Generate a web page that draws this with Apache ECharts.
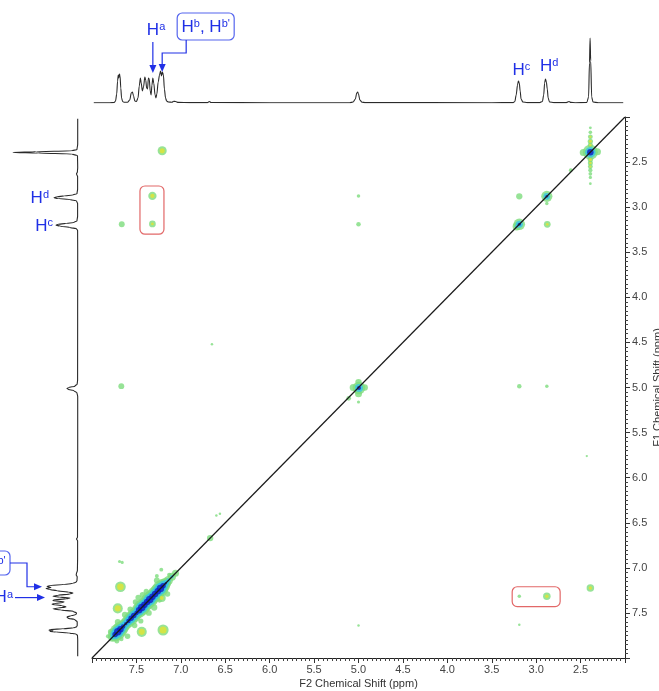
<!DOCTYPE html>
<html><head><meta charset="utf-8">
<script src="https://cdn.jsdelivr.net/npm/echarts@6/dist/echarts.min.js"></script>
<style>html,body{margin:0;padding:0;background:#fff}#c{width:659px;height:691px}</style>
</head><body><div id="c"></div>
<script>
// ---- data (ppm) ----
const ppmMin = 2.0, ppmMax = 8.0;
// 1D projection trace: [ppm, height]
const spectrum1D = [
 [7.98,0.3],[7.80,0.3],[7.75,0.5],[7.735,2],[7.722,9],[7.712,22],[7.705,28],[7.698,25],[7.692,29],[7.684,27],[7.676,15],[7.667,5],[7.655,1.5],[7.64,0.8],[7.60,0.8],[7.575,3],[7.558,10],[7.545,11],[7.532,7],[7.518,2],[7.50,1.5],[7.482,5],[7.468,17],[7.455,25],[7.446,20],[7.433,12],[7.42,16],[7.405,26],[7.395,23],[7.385,15],[7.375,14],[7.365,25],[7.355,24],[7.345,12],[7.335,8],[7.325,18],[7.315,25],[7.305,20],[7.29,8],[7.28,5],[7.27,9],[7.255,21],[7.24,28],[7.228,32],[7.218,27],[7.208,31],[7.196,28],[7.185,14],[7.172,5],[7.16,2],[7.14,1],[7.10,0.8],[7.08,1.8],[7.06,1.5],[7.03,0.6],[6.90,0.4],[6.70,0.4],[6.68,1.5],[6.66,0.5],[6.0,0.3],[5.10,0.3],[5.06,1],[5.035,4],[5.02,10],[5.01,11],[5.0,9],[4.985,3],[4.96,0.8],[4.92,0.4],[3.5,0.3],[3.26,0.4],[3.24,1.5],[3.225,8],[3.21,18],[3.20,22],[3.19,20],[3.18,12],[3.17,4],[3.15,1],[3.10,0.4],[2.96,0.4],[2.93,1.5],[2.915,8],[2.905,20],[2.895,24],[2.885,21],[2.875,14],[2.865,5],[2.85,1],[2.80,0.4],[2.66,0.4],[2.63,1.5],[2.61,0.6],[2.56,0.3],[2.43,0.5],[2.41,6],[2.40,40],[2.393,65],[2.386,42],[2.375,6],[2.36,1],[2.30,0.3],[2.02,0.3]
];
// diagonal peaks: [F2 ppm, F1 ppm, level]
const diagonalPeaks = [
 [2.39,2.39,6.5],[2.47,2.395,2.5],[2.31,2.385,2.5],
 [2.88,2.88,4.6],[3.19,3.19,4.8],[3.22,3.215,3],
 [4.995,5.005,5.3],[5.06,5.0,2.5],[4.93,5.0,2.2],[5.0,5.07,2.5],[5.0,4.94,2.2],
 [6.67,6.67,2.2],
 [7.77,7.77,3.5],[7.74,7.74,6],[7.71,7.71,7],[7.68,7.68,6.5],[7.65,7.65,5.5],[7.62,7.62,5],[7.59,7.59,5.5],[7.56,7.56,6],[7.53,7.53,6],[7.50,7.50,5.5],[7.47,7.47,6.5],[7.44,7.44,7],[7.41,7.41,6.5],[7.38,7.38,6.5],[7.35,7.35,7],[7.32,7.32,6.5],[7.29,7.29,6.5],[7.26,7.26,6.5],[7.23,7.23,7],[7.20,7.20,6],[7.17,7.17,4.5],[7.14,7.14,3.5],[7.10,7.10,3],[7.06,7.06,2.5]
];
// cross peaks: [F2 ppm, F1 ppm, level]
const crossPeaks = [
 [7.21,2.375,3.8],[7.32,2.875,3.4],[7.32,3.186,2.6],[7.665,3.19,2.2],
 [5.0,2.875,1.0],[5.0,3.19,1.5],[3.19,2.88,2.4],[2.875,3.19,2.6],[2.88,2.96,1.0],
 [7.67,4.985,2.2],[3.19,4.985,1.5],[2.88,4.985,1.0],
 [7.68,7.21,4.6],[7.71,7.45,4.3],[7.44,7.71,4.3],[7.20,7.69,4.8],[7.215,7.335,3.2],
 [2.88,7.315,3.0],[3.19,7.315,1.0],[2.39,7.225,3.0],
 [2.61,2.59,1.2],[5.11,5.12,1.6],[5.0,5.16,0.8],
 [7.63,7.52,2.2],[7.52,7.64,2.0],[7.43,7.30,2.2],[7.30,7.44,2.4],[7.51,7.38,2.0],[7.27,7.14,2.2],[7.15,7.29,2.0],[7.71,7.60,2.2],[7.60,7.76,2.0],[7.36,7.50,2.2],[7.48,7.33,2.0],[7.79,7.71,2.0],[7.72,7.81,1.8],[7.69,6.93,0.8],[7.66,6.94,0.8],[7.22,7.02,1.2],[7.13,7.08,1.5],[7.27,7.09,1.2],[7.57,7.46,2.0],[7.45,7.59,1.8],[7.39,7.26,1.8],[7.24,7.36,1.6],[7.67,7.79,1.5],[7.82,7.76,1.3]
];
// t1 noise streak of the 2.39 singlet
const t1Streak = [
 [2.39,2.12,0.8],[2.39,2.17,1.5],[2.39,2.22,2.6],[2.39,2.27,3],[2.39,2.31,2.8],[2.39,2.47,3],[2.39,2.51,2.8],[2.39,2.55,2.6],[2.39,2.59,2],[2.39,2.63,1.6],[2.39,2.67,1.2],[2.39,2.74,0.7]
];
const faintDots = [[6.6,6.42,0.5],[6.56,6.40,0.5],[6.65,4.52,0.5],[5.0,7.64,0.5],[3.19,7.63,0.5],[2.43,5.76,0.4]];
const diagonalLine = [[8.0,8.0],[2.0,2.0]];
// highlighted regions: [F2 from, F2 to, F1 from, F1 to]
const highlightBoxes = [[7.46,7.19,2.765,3.30],[3.27,2.73,7.21,7.43]];
// assignments (ppm)
const assignA = 7.315, assignB = 7.21, assignC = 3.20, assignD = 2.89;

const FONT = 'Liberation Sans, Arial, sans-serif';
const GREEN = '#7ddc7d', YELLOW = '#e4e432', CYAN = '#34c6e6', BLUE = '#0c18c4';
const BLUETXT = '#2030e6';

const chart = echarts.init(document.getElementById('c'), null, {renderer:'canvas'});
const tickCommon = {
  axisLine:{show:true, lineStyle:{color:'#222', width:1}},
  axisTick:{show:true, length:5, lineStyle:{color:'#333'}},
  minorTick:{show:true, splitNumber:10, length:3, lineStyle:{color:'#444'}},
  splitLine:{show:false}, minorSplitLine:{show:false},
  nameMoveOverlap:false
};
const fmt = v => (Math.abs(v-ppmMin)<1e-6 || Math.abs(v-ppmMax)<1e-6) ? '' : v.toFixed(1);
const sc = (xi, yi, data, size, color) => ({type:'scatter', xAxisIndex:xi, yAxisIndex:yi, silent:true, data:data, symbolSize:size, itemStyle:{color:color}});
const option = {
  animation:false,
  backgroundColor:'#fff',
  grid:[
    {left:92, top:117, width:533, height:541, outerBoundsMode:'none', containLabel:false},
    {left:92, top:30, width:533, height:73, outerBoundsMode:'none', containLabel:false},
    {left:8, top:117, width:70, height:541, outerBoundsMode:'none', containLabel:false}
  ],
  xAxis:[
    Object.assign({type:'value', gridIndex:0, min:ppmMin, max:ppmMax, inverse:true, interval:0.5, position:'bottom',
      name:'F2 Chemical Shift (ppm)', nameLocation:'middle', nameGap:20,
      nameTextStyle:{fontFamily:FONT, fontSize:11, color:'#333'},
      axisLabel:{formatter:fmt, fontFamily:FONT, fontSize:11, color:'#444', margin:6}}, tickCommon),
    {type:'value', gridIndex:1, min:ppmMin, max:ppmMax, inverse:true, show:false},
    {type:'value', gridIndex:2, min:0, max:70, inverse:true, show:false}
  ],
  yAxis:[
    Object.assign({type:'value', gridIndex:0, min:ppmMin, max:ppmMax, inverse:true, interval:0.5, position:'right',
      name:'F1 Chemical Shift (ppm)', nameLocation:'middle', nameGap:27, nameRotate:90,
      nameTextStyle:{fontFamily:FONT, fontSize:11, color:'#333'},
      axisLabel:{formatter:fmt, fontFamily:FONT, fontSize:11, color:'#444', margin:7}}, tickCommon),
    {type:'value', gridIndex:1, min:0, max:73, show:false},
    {type:'value', gridIndex:2, min:ppmMin, max:ppmMax, inverse:true, show:false}
  ],
  series:[
    sc(0,0, diagonalPeaks, v=>2+2*v[2], GREEN),
    sc(0,0, crossPeaks.concat(faintDots), v=>1.5+2*v[2], GREEN),
    sc(0,0, t1Streak, v=>2+1.1*v[2], GREEN),
    sc(0,0, crossPeaks, v=>v[2]>=2.5?(v[2]-2)*2+1.5:0, YELLOW),
    sc(0,0, t1Streak, v=>v[2]>=2.5?(v[2]-2)*2+1:0, YELLOW),
    sc(0,0, diagonalPeaks, v=>v[2]>=3?2*v[2]-2.5:0, CYAN),
    sc(0,0, diagonalPeaks, v=>v[2]>=4?2*v[2]-6.5:0, BLUE),
    {type:'line', xAxisIndex:0, yAxisIndex:0, silent:true, data:diagonalLine, showSymbol:false,
     lineStyle:{color:'#1a1a1a', width:1.2}, z:5},
    {type:'line', xAxisIndex:1, yAxisIndex:1, silent:true, data:spectrum1D, showSymbol:false,
     smooth:0.3, smoothMonotone:'x', lineStyle:{color:'#2a2a2a', width:1.1}},
    {type:'line', xAxisIndex:2, yAxisIndex:2, silent:true, data:spectrum1D.map(d=>[d[1],d[0]]), showSymbol:false,
     smooth:0.3, smoothMonotone:'y', lineStyle:{color:'#2a2a2a', width:1.1}}
  ]
};
chart.setOption(option);

// ---- annotations anchored through the axes ----
const P = (x,y)=>chart.convertToPixel({xAxisIndex:0,yAxisIndex:0},[x,y]);
const T = (x,h)=>chart.convertToPixel({xAxisIndex:1,yAxisIndex:1},[x,h]);
const L = (h,y)=>chart.convertToPixel({xAxisIndex:2,yAxisIndex:2},[h,y]);
const rich = {
  h:{fontSize:17, fontFamily:FONT, fill:BLUETXT, verticalAlign:'bottom'},
  s:{fontSize:11, fontFamily:FONT, fill:BLUETXT, verticalAlign:'top'}
};
function label(x, y, txt, align){
  return {type:'text', z:20, silent:true, style:{x:x, y:y, text:txt, rich:rich, align:align||'left', verticalAlign:'middle', fill:BLUETXT}};
}
const LS = {stroke:BLUETXT, lineWidth:1.2, fill:'none'};
function poly(pts){ return {type:'polyline', z:20, silent:true, shape:{points:pts}, style:LS}; }
function head(tx, ty, dir){
  const pts = dir==='down' ? [[tx-3.5,ty-8],[tx+3.5,ty-8],[tx,ty]] : [[tx-8,ty-3.5],[tx-8,ty+3.5],[tx,ty]];
  return {type:'polygon', z:20, silent:true, shape:{points:pts}, style:{fill:BLUETXT}};
}
function rbox(x,y,w,h,color){
  return {type:'rect', z:20, silent:true, shape:{x:x,y:y,width:w,height:h,r:5}, style:{fill:'none', stroke:color, lineWidth:1.2}};
}
const g = [];
highlightBoxes.forEach(b=>{
  const a = P(b[0],b[2]), c = P(b[1],b[3]);
  g.push(rbox(Math.min(a[0],c[0]), Math.min(a[1],c[1]), Math.abs(c[0]-a[0]), Math.abs(c[1]-a[1]), '#e26868'));
});
const HB = '{h|H}{s|b}{h|, H}{s|b\'}';
const ta = T(assignA, 30);
g.push(label(ta[0]-6, 30, '{h|H}{s|a}'));
g.push(poly([[ta[0],42],[ta[0],ta[1]-7]]));
g.push(head(ta[0], ta[1], 'down'));
const tb = T(assignB, 31);
const bx = tb[0]+15;
g.push(rbox(bx, 13, 57, 27, '#5565ee'));
g.push(label(bx+28.5, 27, HB, 'center'));
g.push(poly([[bx+9,40],[bx+9,53],[tb[0],53],[tb[0],tb[1]-7]]));
g.push(head(tb[0], tb[1], 'down'));
const tc = T(assignC, 22), td = T(assignD, 24);
g.push(label(tc[0]-6, tc[1]-11, '{h|H}{s|c}'));
g.push(label(td[0]-6, td[1]-13, '{h|H}{s|d}'));
const ld = L(25, 2.88), lc = L(23, 3.19);
g.push(label(ld[0]-4, ld[1]+2, '{h|H}{s|d}', 'right'));
g.push(label(lc[0]-2, lc[1]+2, '{h|H}{s|c}', 'right'));
const la = L(33, 7.33), lb = L(36, 7.21);
g.push(label(13, la[1], '{h|H}{s|a}', 'right'));
g.push(poly([[15,la[1]],[la[0]-7,la[1]]]));
g.push(head(la[0], la[1], 'right'));
g.push(rbox(-47, 551, 57, 24, '#5565ee'));
g.push(label(-18.5, 564, HB, 'center'));
g.push(poly([[10,563],[27,563],[27,lb[1]],[lb[0]-7,lb[1]]]));
g.push(head(lb[0], lb[1], 'right'));
chart.setOption({graphic:g});
</script>
</body></html>
